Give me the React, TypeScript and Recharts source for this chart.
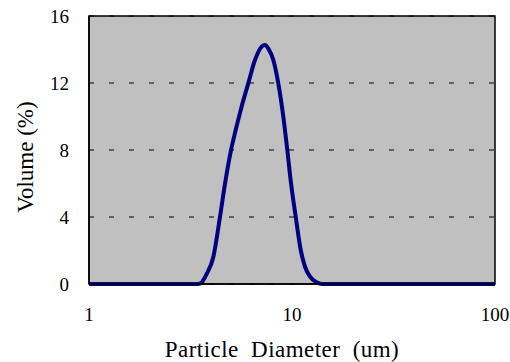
import React from "react";
import {
  LineChart,
  Line,
  XAxis,
  YAxis,
  CartesianGrid,
  ReferenceArea,
  Label,
} from "recharts";

// particle diameter (um) and volume (%)
const diameters = [
  1, 3.3, 3.45, 3.59, 3.8, 4.1, 4.42, 4.68, 5.01, 5.28, 5.65, 6.09, 6.57,
  7.09, 7.36, 7.65, 8.09, 8.56, 9.06, 9.48, 9.89, 10.43, 11.04, 11.59, 12.27,
  13.23, 14.0, 100,
];
const volumes = [
  0, 0, 0, 0.1, 0.6, 1.63, 4.02, 6.01, 8.0, 9.19, 10.6, 11.98, 13.37, 14.17,
  14.27, 14.05, 13.37, 11.98, 10.0, 8.0, 6.01, 4.02, 2.03, 1.03, 0.44, 0.1, 0,
  0,
];

const xTicks = [1, 10, 100];
const xMinorTicks = [2, 3, 4, 5, 6, 7, 8, 9, 20, 30, 40, 50, 60, 70, 80, 90];
const xMajorInner = [10];
const yTicks = [0, 4, 8, 12, 16];

const data = diameters.map((d, i) => ({ d, v: volumes[i] }));

const font = '"Liberation Serif", "Times New Roman", serif';

export default function App() {
  return (
    <div style={{ position: "absolute", left: 0, top: 0, width: 510, height: 362 }}>
      <LineChart
        width={510}
        height={362}
        data={data}
        margin={{ top: 16, right: 15, bottom: 0, left: 0 }}
      >
        <CartesianGrid
          vertical={false}
          fill="#c0c0c0"
          fillOpacity={1}
          stroke="#000"
          strokeDasharray="5 15"
        />
        <XAxis
          dataKey="d"
          type="number"
          scale="log"
          domain={[1, 100]}
          ticks={xTicks}
          allowDataOverflow
          height={78}
          tickLine={false}
          tickSize={0}
          tickMargin={24}
          axisLine={{ stroke: "#000", strokeWidth: 1.5 }}
          tick={{ fill: "#000", fontSize: 19, fontFamily: font }}
        >
          <Label
            content={() => (
              <text
                x={282}
                y={357}
                textAnchor="middle"
                fontSize={23}
                fontFamily={font}
                letterSpacing={0.45}
                fill="#000"
                style={{ whiteSpace: "pre" }}
              >
                Particle  Diameter  (um)
              </text>
            )}
          />
        </XAxis>
        <XAxis
          xAxisId="minor"
          dataKey="d"
          type="number"
          scale="log"
          domain={[1, 100]}
          ticks={xMinorTicks}
          allowDataOverflow
          mirror
          height={0}
          tick={false}
          tickSize={5}
          axisLine={false}
          tickLine={{ stroke: "#000" }}
        />
        <XAxis
          xAxisId="major"
          dataKey="d"
          type="number"
          scale="log"
          domain={[1, 100]}
          ticks={xMajorInner}
          allowDataOverflow
          mirror
          height={0}
          tick={false}
          tickSize={7}
          axisLine={false}
          tickLine={{ stroke: "#000" }}
        />
        <YAxis
          type="number"
          domain={[0, 16]}
          ticks={yTicks}
          width={89}
          tickLine={false}
          tickSize={0}
          tickMargin={20}
          axisLine={{ stroke: "#000", strokeWidth: 1.5 }}
          tick={{ fill: "#000", fontSize: 19, fontFamily: font }}
        >
          <Label
            content={() => (
              <text
                x={25}
                y={157}
                transform="rotate(-90 25 157)"
                textAnchor="middle"
                dominantBaseline="central"
                fontSize={23}
                fontFamily={font}
                fill="#000"
              >
                Volume (%)
              </text>
            )}
          />
        </YAxis>
        <ReferenceArea
          x1={1}
          x2={100}
          y1={0}
          y2={16}
          fill="none"
          stroke="#000"
          strokeWidth={1.5}
          ifOverflow="visible"
        />
        <Line
          type="monotone"
          dataKey="v"
          stroke="#000080"
          strokeWidth={4}
          strokeLinejoin="round"
          dot={false}
          activeDot={false}
          isAnimationActive={false}
        />
      </LineChart>
    </div>
  );
}
